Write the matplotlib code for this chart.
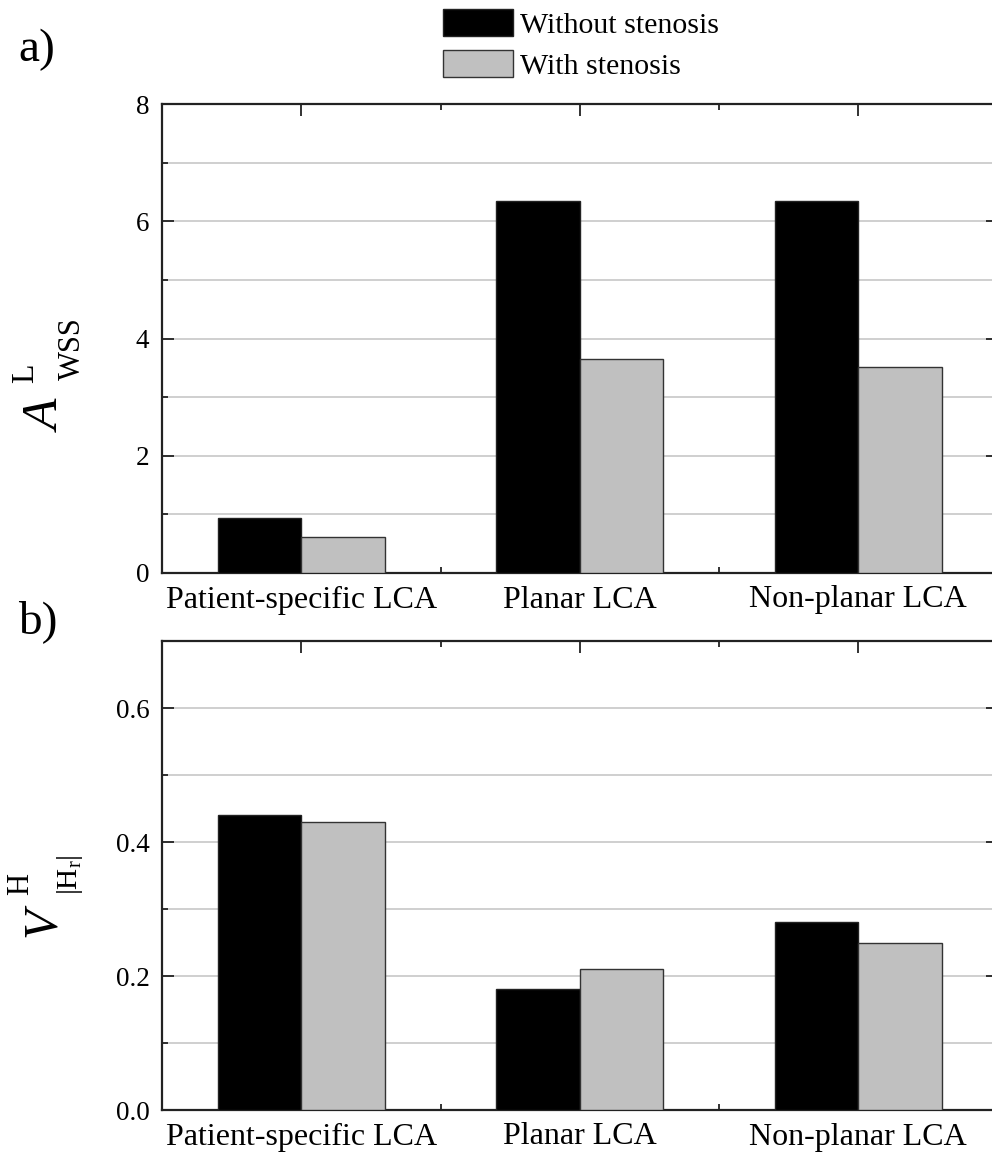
import matplotlib
matplotlib.use("Agg")
import matplotlib.pyplot as plt
import numpy as np
from matplotlib.ticker import MultipleLocator, FixedLocator

plt.rcParams["font.family"] = ["Liberation Serif", "DejaVu Serif"]
plt.rcParams["mathtext.fontset"] = "custom"
plt.rcParams["mathtext.rm"] = "Liberation Serif"
plt.rcParams["mathtext.it"] = "Liberation Serif:italic"

# Data
categories = ["Patient-specific LCA", "Planar LCA", "Non-planar LCA"]
series_names = ["Without stenosis", "With stenosis"]
a_wss_without = [0.93, 6.34, 6.35]
a_wss_with = [0.61, 3.65, 3.51]
v_hr_without = [0.44, 0.18, 0.28]
v_hr_with = [0.43, 0.21, 0.25]

W, H = 992, 1158
fig = plt.figure(figsize=(W / 100, H / 100), dpi=100)


def px_box(left, top, right, bottom):
    return [left / W, 1 - bottom / H, (right - left) / W, (bottom - top) / H]


ax1 = fig.add_axes(px_box(162, 104, 997.5, 573))
ax2 = fig.add_axes(px_box(162, 641, 997.5, 1110))

x = np.arange(len(categories))
bw = 0.3


def draw_panel(ax, without, with_, ymax, major, minor):
    b1 = ax.bar(x - bw / 2, without, bw, color="black", edgecolor="#222222",
                linewidth=1.0, zorder=3, label=series_names[0])
    b2 = ax.bar(x + bw / 2, with_, bw, color="#c0c0c0", edgecolor="#333333",
                linewidth=1.0, zorder=3, label=series_names[1])
    ax.set_xlim(-0.5, 2.5)
    ax.set_ylim(0, ymax)
    ax.yaxis.set_major_locator(MultipleLocator(major))
    ax.yaxis.set_minor_locator(MultipleLocator(minor))
    ax.set_xticks(x)
    ax.set_xticklabels(categories)
    ax.xaxis.set_minor_locator(FixedLocator([0.5, 1.5]))
    ax.grid(True, which="both", axis="y", color="#cccccc", linewidth=1.3, zorder=0)
    ax.set_axisbelow(True)
    ax.tick_params(which="both", direction="in", top=True, right=True,
                   width=1.3, color="#222222")
    ax.tick_params(which="major", length=8.5)
    ax.tick_params(which="minor", length=4.5)
    ax.tick_params(axis="x", which="major", labelsize=23, pad=9)
    ax.tick_params(axis="y", which="major", labelsize=19.5, pad=9)
    for s in ax.spines.values():
        s.set_linewidth(1.6)
        s.set_color("#222222")
    return b1, b2


b1, b2 = draw_panel(ax1, a_wss_without, a_wss_with, 8, 2, 1)
draw_panel(ax2, v_hr_without, v_hr_with, 0.7, 0.2, 0.1)

fig.legend(handles=[b1, b2], loc="upper left", bbox_to_anchor=(443 / W, 1 - 9 / H),
           frameon=False, fontsize=21.5, handlelength=2.35, handleheight=1.0,
           handletextpad=0.24, labelspacing=0.38, borderpad=0, borderaxespad=0)

# Panel letters
fig.text(18 / W, 1 - 50 / H, "a)", fontsize=34, ha="left", va="center")
fig.text(18 / W, 1 - 622 / H, "b)", fontsize=34, ha="left", va="center")


def fx(px):
    return px / W


def fy(py):
    return 1 - py / H


rot = dict(rotation=90, rotation_mode="anchor", ha="left", va="baseline")

# Y label, top panel: A with superscript L and subscript WSS
fig.text(fx(60), fy(432), "A", fontsize=37, style="italic", **rot)
fig.text(fx(33), fy(383), "L", fontsize=23, **rot)
fig.text(fx(80), fy(380), "WSS", fontsize=22, **rot)

# Y label, bottom panel: V with superscript H and subscript |H_r|
fig.text(fx(55), fy(937), "V", fontsize=35, style="italic", **rot)
fig.text(fx(28), fy(895), "H", fontsize=22, **rot)
fig.text(fx(77), fy(895), r"$|\mathrm{H}_{\mathrm{r}}|$", fontsize=21, **rot)

fig.savefig("out.png", dpi=100)
